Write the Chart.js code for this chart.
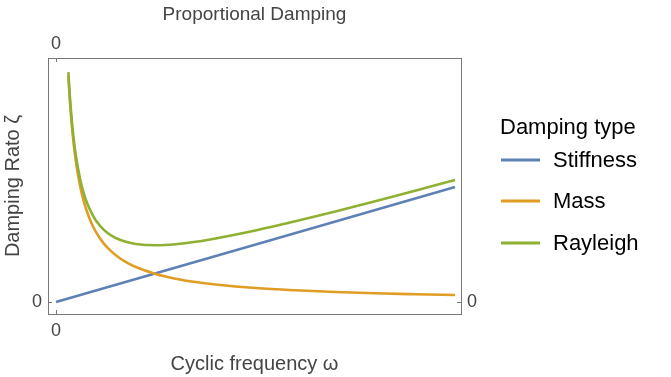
<!DOCTYPE html>
<html>
<head>
<meta charset="utf-8">
<script src="https://cdn.jsdelivr.net/npm/chart.js@4.4.1/dist/chart.umd.min.js"></script>
<style>
  html, body { margin: 0; padding: 0; background: #fff; }
  #chart { display: block; }
</style>
</head>
<body>
<canvas id="chart" width="671" height="377"></canvas>
<script>
// data (arbitrary units, only 0 is labelled)
const seriesNames = ['Stiffness', 'Mass', 'Rayleigh'];
const seriesColors = ['#5E81B5', '#E19C24', '#8FB032'];

const stiffOmega = [0, 10];
const stiffZeta = [0, 1.0];

const omega = [0.31, 0.33, 0.35, 0.38, 0.4, 0.45, 0.5, 0.6, 0.7, 0.8, 0.9, 1.0, 1.2, 1.4, 1.6, 1.8, 2.0,
               2.5, 3, 3.5, 4, 5, 6, 7, 8, 9, 10];
const massZeta = [1.968, 1.848, 1.743, 1.605, 1.525, 1.356, 1.220, 1.017, 0.871, 0.763, 0.678, 0.610,
                  0.508, 0.436, 0.381, 0.339, 0.305, 0.244, 0.203, 0.174, 0.153, 0.122, 0.102, 0.087,
                  0.076, 0.068, 0.061];
const rayleighZeta = [1.999, 1.881, 1.778, 1.643, 1.565, 1.401, 1.270, 1.077, 0.941, 0.843, 0.768, 0.710,
                      0.628, 0.576, 0.541, 0.519, 0.505, 0.494, 0.503, 0.524, 0.553, 0.622, 0.702, 0.787,
                      0.876, 0.968, 1.061];

const xTicks = [0];
const yTicks = [0];

const FONT = "'Liberation Sans', Arial, sans-serif";
const frameColor = '#777';
const labelColor = '#444';

function toPoints(xs, ys) {
    return xs.map((x, i) => ({ x: x, y: ys[i] }));
}

// only the zero tick is shown on every side
function zeroTicks(list) {
    return scale => { scale.ticks = list.map(v => ({ value: v })); };
}

function axis(position, list, extra) {
    const horiz = position === 'top' || position === 'bottom';
    return Object.assign({
        type: 'linear',
        position: position,
        min: horiz ? -0.2 : -0.104,
        max: horiz ? 10.15 : 2.122,
        afterBuildTicks: zeroTicks(list),
        grid: { display: true, drawOnChartArea: false, drawTicks: false },
        border: { display: true, color: frameColor, width: 1 },
        ticks: {
            color: labelColor,
            font: { family: FONT, size: 18 },
            padding: 6,
            maxRotation: 0
        }
    }, extra);
}

// small inward tick marks like the reference frame
const innerTicks = {
    id: 'innerTicks',
    afterDatasetsDraw(chart) {
        const { ctx, chartArea: a, scales } = chart;
        ctx.save();
        ctx.strokeStyle = frameColor;
        ctx.lineWidth = 1;
        ctx.beginPath();
        xTicks.forEach(v => {
            const px = Math.round(scales.x.getPixelForValue(v)) + 0.5;
            ctx.moveTo(px, a.bottom); ctx.lineTo(px, a.bottom - 4);
            ctx.moveTo(px, a.top); ctx.lineTo(px, a.top + 4);
        });
        yTicks.forEach(v => {
            const py = Math.round(scales.y.getPixelForValue(v)) + 0.5;
            ctx.moveTo(a.left, py); ctx.lineTo(a.left + 4, py);
            ctx.moveTo(a.right, py); ctx.lineTo(a.right - 4, py);
        });
        ctx.stroke();
        ctx.restore();
    }
};

// legend on the right with a title
const sideLegend = {
    id: 'sideLegend',
    afterDraw(chart) {
        const ctx = chart.ctx;
        ctx.save();
        ctx.fillStyle = '#000';
        ctx.textBaseline = 'middle';
        ctx.textAlign = 'left';
        ctx.font = '22px ' + FONT;
        ctx.fillText('Damping type', 500, 128);
        const rows = [160, 201, 243];
        seriesNames.forEach((name, i) => {
            ctx.strokeStyle = seriesColors[i];
            ctx.lineWidth = 3;
            ctx.beginPath();
            ctx.moveTo(501, rows[i]);
            ctx.lineTo(540, rows[i]);
            ctx.stroke();
            ctx.fillText(name, 553, rows[i] + 1);
        });
        ctx.restore();
    }
};

const ctx = document.getElementById('chart').getContext('2d');
new Chart(ctx, {
    type: 'line',
    data: {
        datasets: [
            { label: seriesNames[0], data: toPoints(stiffOmega, stiffZeta), borderColor: seriesColors[0], order: 3 },
            { label: seriesNames[1], data: toPoints(omega, massZeta), borderColor: seriesColors[1], order: 2 },
            { label: seriesNames[2], data: toPoints(omega, rayleighZeta), borderColor: seriesColors[2], order: 1 }
        ]
    },
    options: {
        responsive: false,
        animation: false,
        layout: { padding: 0 },
        elements: {
            point: { radius: 0 },
            line: { borderWidth: 2.6, cubicInterpolationMode: 'monotone', fill: false }
        },
        plugins: {
            legend: { display: false },
            tooltip: { enabled: false }
        },
        scales: {
            x: axis('bottom', xTicks, {
                afterFit: s => { s.height = 63; },
                title: {
                    display: true,
                    text: 'Cyclic frequency ω',
                    color: labelColor,
                    font: { family: FONT, size: 20 },
                    padding: { top: 0, bottom: 1 }
                }
            }),
            // the top axis carries the plot title so it centres over the frame
            x2: axis('top', xTicks, {
                afterFit: s => { s.height = 58; },
                ticks: { color: labelColor, font: { family: FONT, size: 18 }, padding: 3, maxRotation: 0 },
                title: {
                    display: true,
                    text: 'Proportional Damping',
                    color: labelColor,
                    font: { family: FONT, size: 19 },
                    padding: { top: 3, bottom: 0 }
                }
            }),
            y: axis('left', yTicks, {
                afterFit: s => { s.width = 48; },
                title: {
                    display: true,
                    text: 'Damping Rato ζ',
                    color: labelColor,
                    font: { family: FONT, size: 20 },
                    padding: { top: 1, bottom: 0 }
                }
            }),
            y2: axis('right', yTicks, {
                afterFit: s => { s.width = 210; }
            })
        }
    },
    plugins: [innerTicks, sideLegend]
});
</script>
</body>
</html>
